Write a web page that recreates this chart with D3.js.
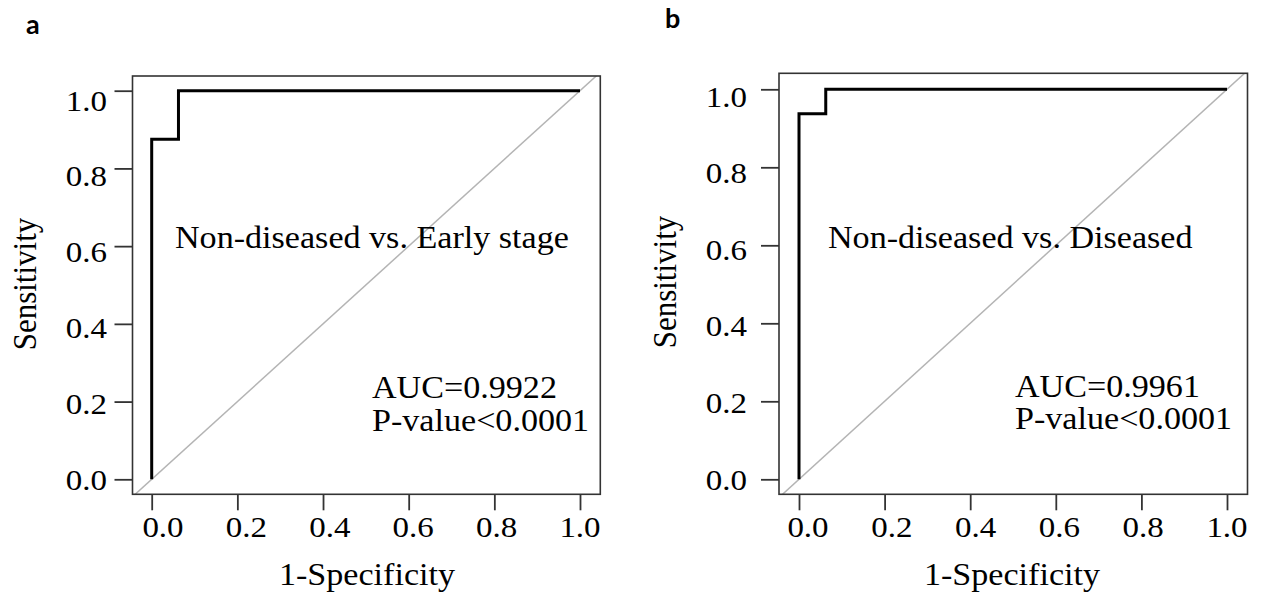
<!DOCTYPE html>
<html>
<head>
<meta charset="utf-8">
<script src="https://cdn.jsdelivr.net/npm/d3@7"></script>
<style>
  html, body { margin: 0; padding: 0; background: #fff; }
  svg { display: block; }
  .serif { font-family: "Liberation Serif", "Times New Roman", serif; fill: #000; }
</style>
</head>
<body>
<svg id="chart" width="1262" height="594"></svg>
<script>
// ---- data ----
const fprA = [0, 0, 0.0625, 0.0625, 1];
const tprA = [0, 0.875, 0.875, 1, 1];
const fprB = [0, 0, 0.0625, 0.0625, 1];
const tprB = [0, 0.9375, 0.9375, 1, 1];
const tickValues = [0, 0.2, 0.4, 0.6, 0.8, 1.0];
const tickLabels = ["0.0", "0.2", "0.4", "0.6", "0.8", "1.0"];
const panelLabels = ["a", "b"];
const titles = ["Non-diseased vs. Early stage", "Non-diseased vs. Diseased"];
const aucLabels = ["AUC=0.9922", "AUC=0.9961"];
const pLabels = ["P-value<0.0001", "P-value<0.0001"];
const xTitle = "1-Specificity";
const yTitle = "Sensitivity";

// ---- layout ----
const layouts = [
  { x0: 151.7, x1: 580, y0: 479.3, y1: 90.7, box: { l: 132.5, r: 600.3, t: 76, b: 494.3 },
    xl0: 163, xl1: 580, yl0: 479, yl1: 100, ylRight: 107,
    tag: [26, 34], title: [175, 248], auc: [372, 398], p: [372, 431],
    ylab: [36, 284], xlab: [367, 585] },
  { x0: 799, x1: 1227, y0: 479.3, y1: 89.3, box: { l: 779, r: 1247.5, t: 73.3, b: 494.3 },
    xl0: 808, xl1: 1227, yl0: 479.3, yl1: 96, ylRight: 747,
    tag: [665, 28], title: [828, 248], auc: [1015, 397], p: [1015, 429],
    ylab: [676, 282], xlab: [1012, 585] }
];
const series = [ { fpr: fprA, tpr: tprA }, { fpr: fprB, tpr: tprB } ];
const SX = 1.1; // horizontal stretch of the original picture
const FS = 31;

const svg = d3.select("#chart");

function stretchedText(g, x, y, str, size, anchor, rotate) {
  return g.append("text")
    .attr("class", "serif")
    .attr("transform", `translate(${x},${y}) scale(${SX},1)` + (rotate ? ` rotate(${rotate})` : ""))
    .attr("text-anchor", anchor)
    .style("font-size", size + "px")
    .text(str);
}

layouts.forEach((L, k) => {
  const g = svg.append("g");
  const x = d3.scaleLinear().domain([0, 1]).range([L.x0, L.x1]);
  const y = d3.scaleLinear().domain([0, 1]).range([L.y0, L.y1]);
  const xl = d3.scaleLinear().domain([0, 1]).range([L.xl0, L.xl1]);
  const yl = d3.scaleLinear().domain([0, 1]).range([L.yl0, L.yl1]);

  // clip
  const cid = "clip" + k;
  svg.append("clipPath").attr("id", cid).append("rect")
    .attr("x", L.box.l).attr("y", L.box.t)
    .attr("width", L.box.r - L.box.l).attr("height", L.box.b - L.box.t);

  // diagonal reference line
  g.append("line")
    .attr("clip-path", `url(#${cid})`)
    .attr("x1", x(-0.2)).attr("y1", y(-0.2))
    .attr("x2", x(1.2)).attr("y2", y(1.2))
    .attr("stroke", "#b4b4b4").attr("stroke-width", 1.5);

  // ROC curve
  const s = series[k];
  const line = d3.line().x(i => x(s.fpr[i])).y(i => y(s.tpr[i]));
  g.append("path")
    .attr("d", line(d3.range(s.fpr.length)))
    .attr("fill", "none").attr("stroke", "#000")
    .attr("stroke-width", 3).attr("stroke-linejoin", "miter").attr("stroke-linecap", "butt");

  // box
  g.append("rect")
    .attr("x", L.box.l).attr("y", L.box.t)
    .attr("width", L.box.r - L.box.l).attr("height", L.box.b - L.box.t)
    .attr("fill", "none").attr("stroke", "#333").attr("stroke-width", 1.6);

  // axes (ticks)
  const ya = g.append("g").attr("transform", `translate(${L.box.l},0)`)
    .call(d3.axisLeft(y).tickValues(tickValues).tickSize(18).tickFormat(""));
  const xa = g.append("g").attr("transform", `translate(0,${L.box.b})`)
    .call(d3.axisBottom(x).tickValues(tickValues).tickSize(16).tickFormat(""));
  [ya, xa].forEach(a => {
    a.select(".domain").remove();
    a.selectAll(".tick line").attr("stroke", "#333").attr("stroke-width", 1.8);
  });

  // tick labels
  tickValues.forEach((v, i) => {
    stretchedText(g, L.ylRight, yl(v) + 10.5, tickLabels[i], 30, "end");
    stretchedText(g, xl(v), 537, tickLabels[i], 30, "middle");
  });

  // axis titles
  stretchedText(g, L.xlab[0], L.xlab[1], xTitle, FS, "middle");
  stretchedText(g, L.ylab[0], L.ylab[1], yTitle, FS, "middle", -90);

  // annotations
  stretchedText(g, L.title[0], L.title[1], titles[k], FS, "start");
  stretchedText(g, L.auc[0], L.auc[1], aucLabels[k], FS, "start");
  stretchedText(g, L.p[0], L.p[1], pLabels[k], FS, "start");

  // panel tag
  g.append("text")
    .attr("x", L.tag[0]).attr("y", L.tag[1])
    .style("font-family", "Lato, 'Open Sans', sans-serif")
    .style("font-weight", "bold").style("font-size", "27px")
    .attr("fill", "#000")
    .text(panelLabels[k]);
});
</script>
</body>
</html>
